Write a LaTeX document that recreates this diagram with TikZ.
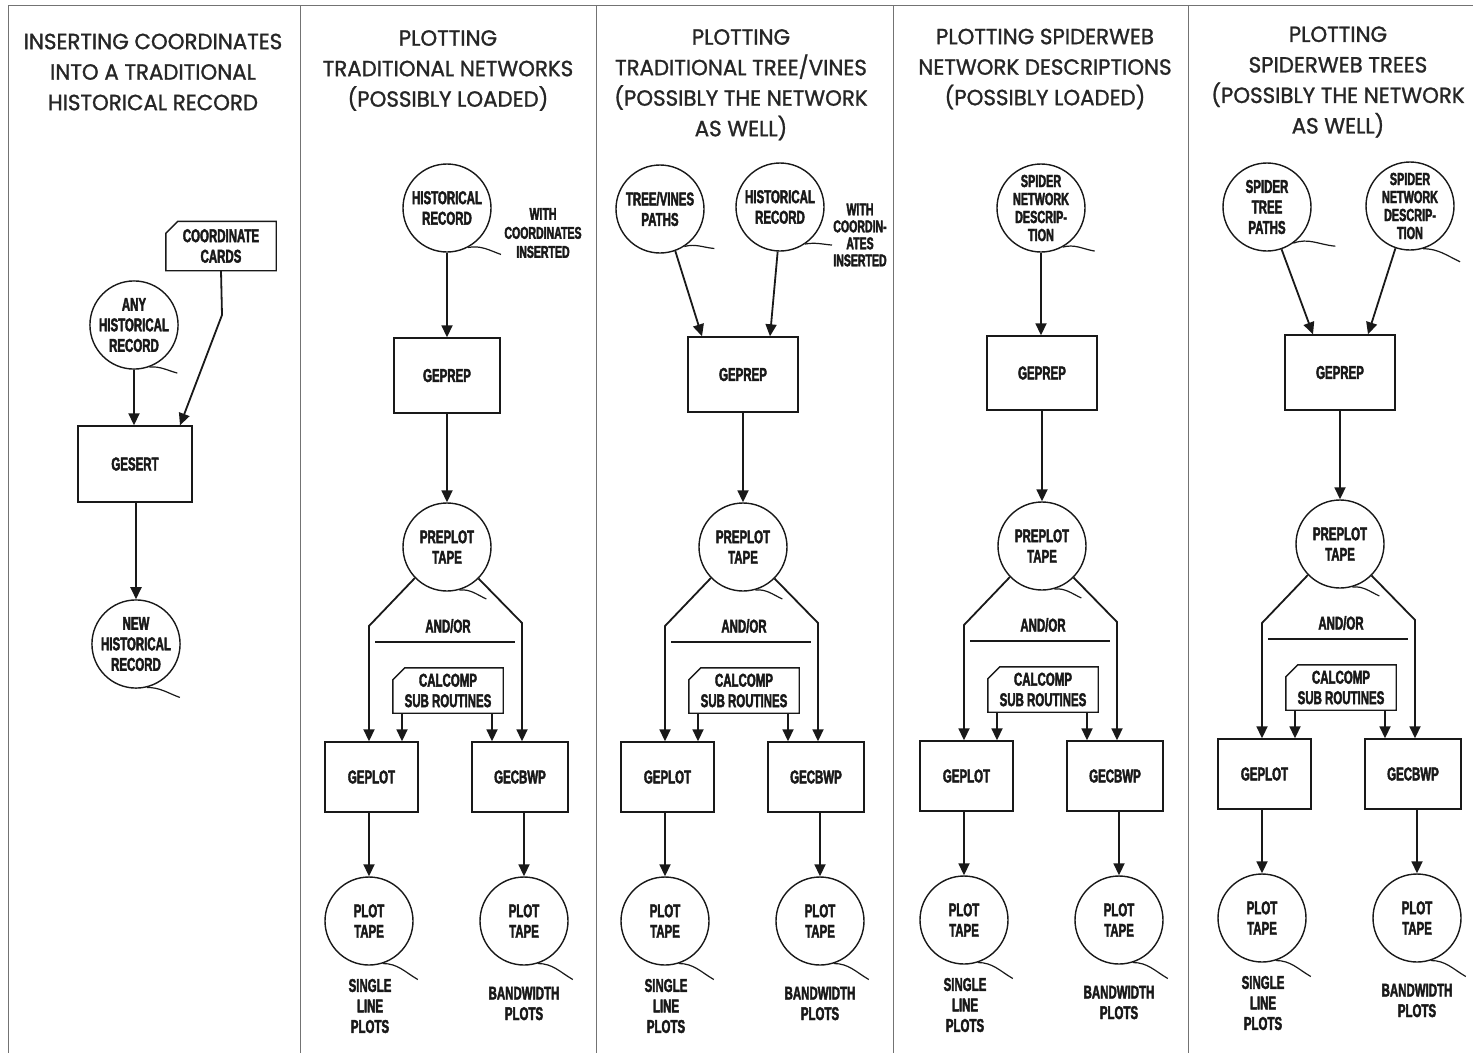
\documentclass[tikz,border=0pt]{standalone}
\usepackage{fontspec}
\usetikzlibrary{arrows.meta,calc}
\newfontfamily\hdrfont[FakeStretch=0.97, FakeBold=1.2]{Poppins}
\newfontfamily\boxfontraw[FakeStretch=0.62, FakeBold=2.2]{Liberation Sans}
\newcommand\boxfont{\boxfontraw\bfseries}
\tikzset{
  hdr/.style={align=center, inner sep=0pt, text=black!85, font=\hdrfont\fontsize{22}{30.5}\selectfont},
  lbl/.style={align=center, inner sep=0pt, text=black!90, font=\boxfont\fontsize{18.5}{20.5}\selectfont},
  wlbl/.style={align=center, inner sep=0pt, text=black!90, font=\boxfont\fontsize{17}{19}\selectfont},
  tight/.style={font=\boxfont\fontsize{17.5}{18}\selectfont},
  proc/.style={lbl, draw=black!90, line width=1.4pt},
  tape/.style={lbl, circle, draw=black!90, line width=1.4pt, minimum size=88pt},
  cardbox/.style={lbl},
  cardline/.style={draw=black!90, line width=1.4pt, line join=miter},
  arr/.style={draw=black!90, line width=1.8pt, -{Triangle[length=12pt,width=11pt]}},
  tailline/.style={draw=black!90, line width=1.2pt},
  sepline/.style={draw=black!55, line width=1pt}
}
\newcommand\cardshape[1]{\draw[cardline] ([xshift=12pt]#1.north west) -- (#1.north east) -- (#1.south east) -- (#1.south west) -- ([yshift=-12pt]#1.north west) -- cycle;}
\newcommand\tapetail[5]{\draw[tailline] (#1.#2) to[out=#3,in=#4] ++#5;}
\newcommand\lowerpart[3]{%
  \begin{scope}[shift={(#2,#3)}]
    \node[tape] (#1pp) at (0,0) {PREPLOT\\TAPE};
    \coordinate (#1bl) at (-78,79);
    \coordinate (#1br) at (75,76);
    \node[lbl] (#1ao) at (1,79) {AND/OR};
    \coordinate (#1hl) at (-72,95);
    \coordinate (#1hr) at (68,95);
    \node[cardbox, minimum width=110pt, minimum height=45pt] (#1cal) at (1,143.5) {CALCOMP\\SUB ROUTINES};
    \node[proc, minimum width=93pt, minimum height=70pt] (#1gp) at (-75.5,230) {GEPLOT};
    \node[proc, minimum width=96pt, minimum height=70pt] (#1gc) at (73,230) {GECBWP};
    \node[tape] (#1tl) at (-78,374) {PLOT\\TAPE};
    \node[tape] (#1tr) at (77,374) {PLOT\\TAPE};
    \node[lbl] (#1sl) at (-77,459) {SINGLE\\LINE\\PLOTS};
    \node[lbl] (#1bw) at (77,456.5) {BANDWIDTH\\PLOTS};
  \end{scope}
  \cardshape{#1cal}
  \draw[draw=black!90, line width=1.2pt] (#1hl) -- (#1hr);
  \draw[arr] (#1pp.-136) -- (#1bl) -- (#1bl |- #1gp.north);
  \draw[arr] (#1pp.-45) -- (#1br) -- (#1br |- #1gc.north);
  \coordinate (#1ca) at ([xshift=-46pt]#1cal.south);
  \coordinate (#1cb) at ([xshift=44pt]#1cal.south);
  \draw[arr] (#1ca) -- (#1ca |- #1gp.north);
  \draw[arr] (#1cb) -- (#1cb |- #1gc.north);
  \draw[arr] (#1gp.south -| #1tl.north) -- (#1tl.north);
  \draw[arr] (#1gc.south -| #1tr.north) -- (#1tr.north);
  \tapetail{#1pp}{-74}{5}{155}{(27,9)}
  \tapetail{#1tl}{-72}{0}{150}{(35,16)}
  \tapetail{#1tr}{-72}{0}{150}{(35,16)}
}
\begin{document}
\begin{tikzpicture}[x=1pt, y=-1pt]
  \useasboundingbox (0,0) rectangle (1473,1053);
  \fill[white] (0,0) rectangle (1473,1053);
  % frame and separators
  \draw[sepline] (8,5) -- (1473,5);
  \draw[sepline] (8,5) -- (8,1053);
  \draw[sepline] (300,5) -- (300,1053);
  \draw[sepline] (596,5) -- (596,1053);
  \draw[sepline] (893,5) -- (893,1053);
  \draw[sepline] (1188,5) -- (1188,1053);

  % ---------- column 1 ----------
  \node[hdr] (h1) at (153,72) {INSERTING COORDINATES\\INTO A TRADITIONAL\\HISTORICAL RECORD};
  \node[cardbox, minimum width=110pt, minimum height=49pt] (c1card) at (221,246) {COORDINATE\\CARDS};
  \cardshape{c1card}
  \node[tape, minimum size=87pt] (c1any) at (134,325) {ANY\\HISTORICAL\\RECORD};
  \node[proc, minimum width=114pt, minimum height=76pt] (c1gs) at (135,464) {GESERT};
  \node[tape, minimum size=87pt] (c1new) at (136,644) {NEW\\HISTORICAL\\RECORD};
  \coordinate (c1bend) at (222,315);
  \draw[arr] (c1card.south) -- (c1bend) -- ([xshift=45pt]c1gs.north);
  \draw[arr] (c1any.south) -- (c1any.south |- c1gs.north);
  \draw[arr] (c1gs.south -| c1new.north) -- (c1new.north);
  \tapetail{c1any}{-70}{5}{165}{(28,6)}
  \tapetail{c1new}{-76}{0}{160}{(33,10)}

  % ---------- column 2 ----------
  \node[hdr] (h2) at (448,70.5) {PLOTTING\\TRADITIONAL NETWORKS\\(POSSIBLY LOADED)};
  \node[tape, minimum size=88pt] (c2hist) at (447,208) {HISTORICAL\\RECORD};
  \node[wlbl] (c2with) at (543,233) {WITH\\COORDINATES\\INSERTED};
  \node[proc, minimum width=106pt, minimum height=75pt] (c2gep) at (447,375.5) {GEPREP};
  \draw[arr] (c2hist.south) -- (c2hist.south |- c2gep.north);
  \tapetail{c2hist}{-62}{10}{160}{(33,7)}
  \lowerpart{c2}{447}{547}
  \draw[arr] (c2gep.south) -- (c2pp.north);

  % ---------- column 3 ----------
  \node[hdr] (h3) at (741,84.75) {PLOTTING\\TRADITIONAL TREE/VINES\\(POSSIBLY THE NETWORK\\AS WELL)};
  \node[tape] (c3tv) at (660,209) {TREE/VINES\\PATHS};
  \node[tape] (c3hist) at (780,207) {HISTORICAL\\RECORD};
  \node[wlbl, font=\boxfont\fontsize{17}{17}\selectfont] (c3with) at (860,235) {WITH\\COORDIN-\\ATES\\INSERTED};
  \node[proc, minimum width=110pt, minimum height=75pt] (c3gep) at (743,374.5) {GEPREP};
  \draw[arr] (c3tv.-70) -- ([xshift=-41pt]c3gep.north);
  \draw[arr] (c3hist.-93) -- ([xshift=27pt]c3gep.north);
  \tapetail{c3tv}{-57}{15}{175}{(30,2)}
  \tapetail{c3hist}{-56}{10}{175}{(27,1)}
  \lowerpart{c3}{743}{547}
  \draw[arr] (c3gep.south) -- (c3pp.north);

  % ---------- column 4 ----------
  \node[hdr] (h4) at (1045,69) {PLOTTING SPIDERWEB\\NETWORK DESCRIPTIONS\\(POSSIBLY LOADED)};
  \node[tape, tight] (c4sn) at (1041,208) {SPIDER\\NETWORK\\DESCRIP-\\TION};
  \node[proc, minimum width=110pt, minimum height=74pt] (c4gep) at (1042,373) {GEPREP};
  \draw[arr] (c4sn.south) -- (c4sn.south |- c4gep.north);
  \tapetail{c4sn}{-61}{15}{170}{(32,4)}
  \lowerpart{c4}{1042}{546}
  \draw[arr] (c4gep.south) -- (c4pp.north);

  % ---------- column 5 ----------
  \node[hdr] (h5) at (1338,82) {PLOTTING\\SPIDERWEB TREES\\(POSSIBLY THE NETWORK\\AS WELL)};
  \node[tape] (c5st) at (1267,207) {SPIDER\\TREE\\PATHS};
  \node[tape, tight] (c5sn) at (1410,206) {SPIDER\\NETWORK\\DESCRIP-\\TION};
  \node[proc, minimum width=110pt, minimum height=75pt] (c5gep) at (1340,372.5) {GEPREP};
  \draw[arr] (c5st.-71) -- ([xshift=-27pt]c5gep.north);
  \draw[arr] (c5sn.-109) -- ([xshift=28pt]c5gep.north);
  \tapetail{c5st}{-54}{20}{175}{(42,3)}
  \tapetail{c5sn}{-73}{0}{155}{(37,13)}
  \lowerpart{c5}{1340}{544}
  \draw[arr] (c5gep.south) -- (c5pp.north);
\end{tikzpicture}
\end{document}
